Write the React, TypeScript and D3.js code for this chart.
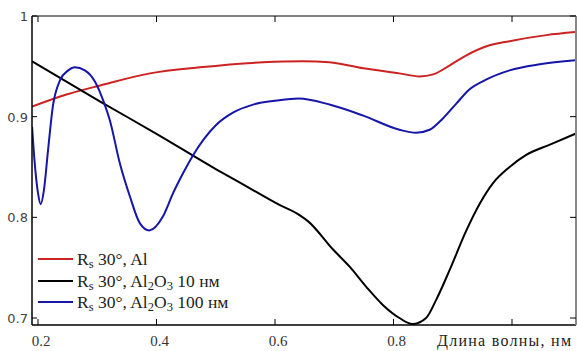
import React from "react";
import * as d3 from "d3";

const xTicks = [0.2, 0.4, 0.6, 0.8, 1.0];
const xTickLabels = ["0.2", "0.4", "0.6", "0.8", ""];
const yTicks = [0.7, 0.8, 0.9, 1.0];
const yTickLabels = ["0.7", "0.8", "0.9", "1"];

const redX = [0.19, 0.248, 0.305, 0.389, 0.473, 0.58, 0.647, 0.692, 0.749, 0.81, 0.844, 0.867, 0.895, 0.923, 0.957, 0.996, 1.058, 1.107];
const redY = [0.910, 0.922, 0.931, 0.943, 0.949, 0.954, 0.955, 0.954, 0.948, 0.943, 0.940, 0.942, 0.951, 0.961, 0.970, 0.975, 0.981, 0.984];

const blueX = [0.19, 0.194, 0.2, 0.2045, 0.21, 0.217, 0.225, 0.237, 0.251, 0.262, 0.279, 0.296, 0.312, 0.321, 0.338, 0.355, 0.372, 0.388, 0.411, 0.428, 0.445, 0.462, 0.479, 0.501, 0.529, 0.563, 0.603, 0.64, 0.692, 0.749, 0.81, 0.838, 0.861, 0.883, 0.906, 0.928, 0.957, 0.996, 1.047, 1.107];
const blueY = [0.89, 0.857, 0.824, 0.813, 0.827, 0.867, 0.910, 0.936, 0.946, 0.949, 0.946, 0.935, 0.913, 0.897, 0.854, 0.821, 0.794, 0.787, 0.801, 0.824, 0.844, 0.862, 0.877, 0.892, 0.904, 0.912, 0.916, 0.918, 0.912, 0.901, 0.887, 0.884, 0.887, 0.898, 0.913, 0.927, 0.937, 0.946, 0.952, 0.956];

const blackX = [0.19, 0.305, 0.4, 0.5, 0.557, 0.602, 0.642, 0.656, 0.698, 0.726, 0.754, 0.782, 0.81, 0.832, 0.855, 0.872, 0.895, 0.923, 0.946, 0.968, 0.996, 1.024, 1.063, 1.107];
const blackY = [0.955, 0.915, 0.883, 0.848, 0.829, 0.814, 0.802, 0.796, 0.768, 0.751, 0.731, 0.713, 0.700, 0.694, 0.700, 0.718, 0.748, 0.787, 0.814, 0.834, 0.850, 0.862, 0.872, 0.883];

const W = 577, H = 351;
const L = 32, R = 576, T = 16, B = 325;

export default function App() {
  const x = d3.scaleLinear().domain([0.2, 1.0]).range([38, 512]);
  const y = d3.scaleLinear().domain([1.0, 0.7]).range([16, 318]);
  const line = d3.line<[number, number]>().x(d => x(d[0])).y(d => y(d[1])).curve(d3.curveMonotoneX);
  const mk = (xs: number[], ys: number[]) => line(xs.map((v, i) => [v, ys[i]] as [number, number])) || "";
  const series = [
    { xs: redX, ys: redY, color: "#cc2222" },
    { xs: blackX, ys: blackY, color: "#000000" },
    { xs: blueX, ys: blueY, color: "#1515a8" },
  ];
  const serif = "'Liberation Serif', 'Times New Roman', serif";
  const sans = "'DejaVu Sans', Verdana, sans-serif";
  const legend = [
    { color: "#cc2222", y: 259, parts: ["R", "s", " 30°, Al"] },
    { color: "#000000", y: 281, parts: ["R", "s", " 30°, Al", "2", "O", "3", " 10 нм"] },
    { color: "#1515a8", y: 302, parts: ["R", "s", " 30°, Al", "2", "O", "3", " 100 нм"] },
  ];
  const isSub = (p: string) => p === "s" || p === "2" || p === "3";
  return (
    <div style={{ position: "absolute", left: 0, top: 0 }}>
      <svg width={W} height={H} style={{ display: "block", background: "#fff" }}>
        <defs>
          <clipPath id="plot"><rect x={L} y={T} width={R - L} height={B - T} /></clipPath>
        </defs>
        <g clipPath="url(#plot)">
          {series.map((s, i) => (
            <path key={i} d={mk(s.xs, s.ys)} fill="none" stroke={s.color} strokeWidth={2} />
          ))}
        </g>
        <line x1={L} x2={R} y1={T} y2={T} stroke="#000" strokeWidth={1} />
        <line x1={L} x2={R} y1={B} y2={B} stroke="#000" strokeWidth={1.5} />
        <line x1={L} x2={L} y1={T} y2={B} stroke="#000" strokeWidth={1.5} />
        <line x1={R} x2={R} y1={T} y2={B} stroke="#888" strokeWidth={2} />
        {xTicks.map((t, i) => (
          <g key={i}>
            <line x1={x(t)} x2={x(t)} y1={B} y2={B - 6} stroke="#000" />
            <line x1={x(t)} x2={x(t)} y1={T} y2={T + 6} stroke="#000" />
            <text x={x(t) + 3} y={346} fontFamily={serif} fontSize={15} fill="#333" textAnchor="middle">{xTickLabels[i]}</text>
          </g>
        ))}
        {yTicks.map((t, i) => (
          <g key={i}>
            <line x1={L} x2={L + 5} y1={y(t)} y2={y(t)} stroke="#000" />
            <line x1={R} x2={R - 6} y1={y(t)} y2={y(t)} stroke="#000" />
            <text x={28} y={y(t) + 5} fontFamily={sans} fontSize={13} fill="#444" textAnchor="end">{yTickLabels[i]}</text>
          </g>
        ))}
        <text x={437} y={346} fontFamily={serif} fontSize={16} fill="#222" textLength={134} lengthAdjust="spacing">Длина волны, нм</text>
        {legend.map((l, i) => (
          <g key={i}>
            <line x1={38} x2={73} y1={l.y} y2={l.y} stroke={l.color} strokeWidth={2} />
            <text x={77} y={l.y + 6} fontFamily={serif} fontSize={17.5} fill="#222">
              {l.parts.map((p, j) => {
                const sub = isSub(p);
                const prevSub = j > 0 && isSub(l.parts[j - 1]);
                return <tspan key={j} dy={sub ? 3 : (prevSub ? -3 : 0)} fontSize={sub ? 12.5 : 17.5}>{p}</tspan>;
              })}
            </text>
          </g>
        ))}
      </svg>
    </div>
  );
}
